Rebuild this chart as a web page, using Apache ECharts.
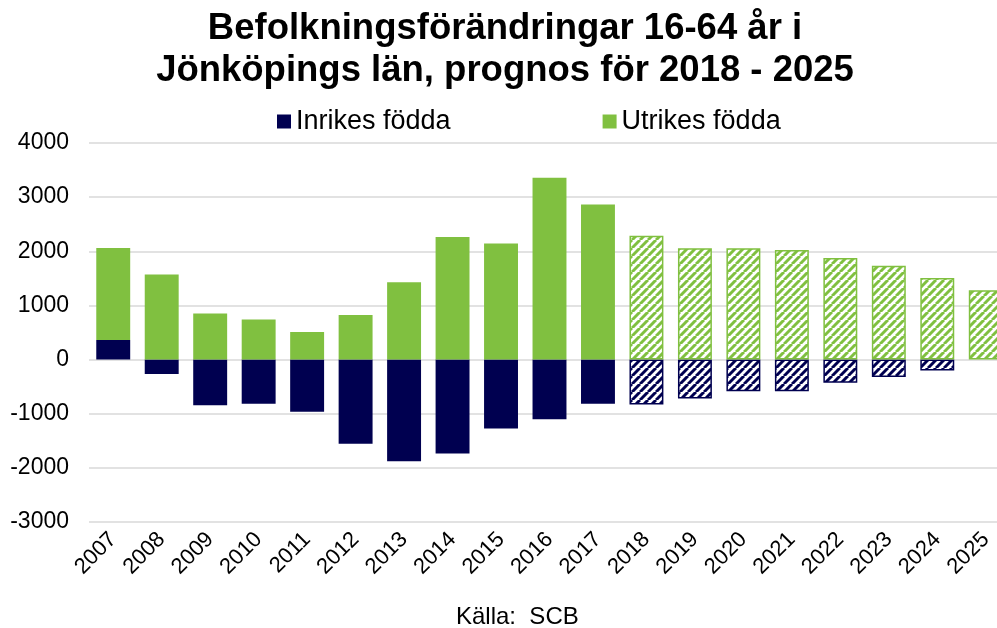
<!DOCTYPE html>
<html>
<head>
<meta charset="utf-8">
<script src="https://cdn.jsdelivr.net/npm/echarts@6/dist/echarts.min.js"></script>
<style>html,body{margin:0;padding:0;background:#fff;overflow:hidden}#c{width:1010px;height:628px}</style>
</head>
<body>
<div id="c"></div>
<script>
const years = ['2007','2008','2009','2010','2011','2012','2013','2014','2015','2016','2017','2018','2019','2020','2021','2022','2023','2024','2025'];
const inrikes = [360, -265, -843, -818, -965, -1556, -1876, -1734, -1273, -1101, -818, -830, -720, -584, -584, -430, -320, -203, 0];
const utrikes = [1700, 1570, 849, 738, 510, 824, 1426, 2263, 2146, 3358, 2866, 2288, 2054, 2054, 2023, 1876, 1734, 1507, 1279];
const forecastFrom = '2018';
const yTicks = [-3000, -2000, -1000, 0, 1000, 2000, 3000, 4000];

const NAVY = '#000050';
const GREEN = '#80c040';

function makeHatch(color) {
  const c = document.createElement('canvas');
  c.width = 8; c.height = 8;
  const ctx = c.getContext('2d');
  ctx.fillStyle = '#ffffff';
  ctx.fillRect(0, 0, 8, 8);
  ctx.strokeStyle = color;
  ctx.lineWidth = 3;
  for (const o of [-8, 0, 8]) {
    ctx.beginPath();
    ctx.moveTo(o, 8);
    ctx.lineTo(o + 8, 0);
    ctx.stroke();
  }
  return c;
}

function buildData(values, color) {
  const fi = years.indexOf(forecastFrom);
  const hatch = makeHatch(color);
  return values.map((v, i) => {
    if (i >= fi) {
      return {
        value: v,
        itemStyle: {
          color: { image: hatch, repeat: 'repeat' },
          borderColor: color,
          borderWidth: v === 0 ? 0 : 1.5
        }
      };
    }
    return v;
  });
}

const FONT = 'Liberation Sans, Arial, sans-serif';
const chart = echarts.init(document.getElementById('c'), null, { renderer: 'canvas' });
chart.setOption({
  animation: false,
  backgroundColor: '#ffffff',
  textStyle: { fontFamily: FONT },
  title: {
    text: 'Befolkningsförändringar 16-64 år i\nJönköpings län, prognos för 2018 - 2025',
    left: 'center',
    top: 3,
    textStyle: { fontSize: 36.5, fontWeight: 'bold', color: '#000', lineHeight: 42, fontFamily: FONT }
  },
  legend: {
    top: 103,
    left: 272,
    itemGap: 152,
    itemWidth: 14,
    itemHeight: 14,
    icon: 'rect',
    textStyle: { fontSize: 27, color: '#000' },
    data: [
      { name: 'Inrikes födda', itemStyle: { color: NAVY } },
      { name: 'Utrikes födda', itemStyle: { color: GREEN } }
    ]
  },
  graphic: [{
    type: 'text',
    left: 456,
    top: 605,
    style: { text: 'Källa:  SCB', fontSize: 24, fill: '#000', fontFamily: FONT }
  }],
  grid: { left: 89, top: 143, width: 921, height: 379, containLabel: false },
  xAxis: {
    type: 'category',
    data: years,
    axisLine: { show: false, onZero: false },
    axisTick: { show: false },
    axisLabel: { rotate: 45, fontSize: 22, color: '#000', margin: 14, interval: 0 }
  },
  yAxis: {
    type: 'value',
    min: yTicks[0],
    max: yTicks[yTicks.length - 1],
    interval: 1000,
    axisLine: { show: false },
    axisTick: { show: false },
    axisLabel: { fontSize: 23, color: '#000', margin: 20, formatter: v => String(v) },
    splitLine: { lineStyle: { color: '#d9d9d9', width: 1.5 } }
  },
  series: [
    {
      name: 'Inrikes födda',
      type: 'bar',
      stack: 'total',
      barCategoryGap: '30%',
      itemStyle: { color: NAVY },
      data: buildData(inrikes, NAVY)
    },
    {
      name: 'Utrikes födda',
      type: 'bar',
      stack: 'total',
      barCategoryGap: '30%',
      itemStyle: { color: GREEN },
      data: buildData(utrikes, GREEN)
    }
  ]
});
</script>
</body>
</html>
